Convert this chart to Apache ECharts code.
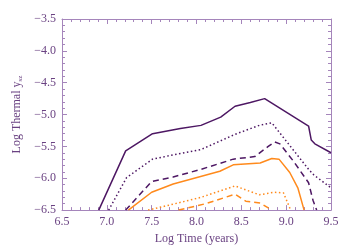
<!DOCTYPE html>
<html><head><meta charset="utf-8">
<script src="https://cdn.jsdelivr.net/npm/echarts@6/dist/echarts.min.js"></script>
<style>html,body{margin:0;padding:0;background:#fff}#c{width:350px;height:250px}</style>
</head><body><div id="c"></div>
<script>
const xMin = 6.5, xMax = 9.5, xStep = 0.5;
const yMin = -6.5, yMax = -3.5, yStep = 0.5;

const solidPurple = [[6.91,-6.5],[7.21,-5.57],[7.51,-5.30],[7.82,-5.22],[8.05,-5.17],[8.27,-5.04],[8.43,-4.87],[8.60,-4.81],[8.76,-4.75],[9.25,-5.18],[9.28,-5.40],[9.32,-5.46],[9.5,-5.60]];
const dottedPurple = [[7.02,-6.5],[7.22,-5.99],[7.51,-5.70],[7.82,-5.61],[8.05,-5.55],[8.43,-5.31],[8.70,-5.17],[8.84,-5.13],[9.25,-5.86],[9.31,-5.95],[9.5,-6.15]];
const dashedPurple = [[7.21,-6.5],[7.50,-6.05],[7.74,-5.98],[8.05,-5.86],[8.41,-5.70],[8.65,-5.66],[8.80,-5.50],[8.87,-5.43],[8.93,-5.46],[9.08,-5.73],[9.25,-6.07],[9.30,-6.35],[9.34,-6.5]];
const solidOrange = [[7.24,-6.5],[7.50,-6.22],[7.74,-6.09],[8.26,-5.89],[8.41,-5.79],[8.71,-5.76],[8.84,-5.69],[8.92,-5.70],[9.04,-5.91],[9.13,-6.15],[9.20,-6.5]];
const dottedOrange = [[7.46,-6.5],[7.76,-6.40],[8.05,-6.30],[8.43,-6.12],[8.70,-6.26],[8.87,-6.22],[8.97,-6.23],[9.05,-6.5]];
const dashedOrange = [[7.80,-6.5],[7.95,-6.45],[8.10,-6.40],[8.43,-6.25],[8.55,-6.36],[8.71,-6.39],[8.84,-6.5]];

const purple = '#4d1763';
const orange = '#ff8a1c';
const axisCol = '#a585bb';
const textCol = '#6a4282';
const font = 'Liberation Serif';

const fmt = v => v.toFixed(1).replace('-', '\u2212');

function axis(extra, min, max, step, showLabel) {
  return Object.assign({
    type: 'value', min: min, max: max, interval: step,
    axisLine: {show: true, onZero: false, lineStyle: {color: axisCol, width: 1}},
    axisTick: {show: true, inside: true, length: 5, lineStyle: {color: axisCol}},
    minorTick: {show: true, splitNumber: 5, length: 3, lineStyle: {color: axisCol}},
    splitLine: {show: false},
    axisLabel: {show: showLabel, color: textCol, fontFamily: font, fontSize: 12, formatter: fmt, margin: 6},
  }, extra);
}

function line(data, color, type) {
  return {type: 'line', data: data, showSymbol: false, symbol: 'none', clip: true,
    lineStyle: {color: color, width: 1.5, type: type}, xAxisIndex: 0, yAxisIndex: 0};
}

const chart = echarts.init(document.getElementById('c'), null, {renderer: 'canvas'});
chart.setOption({
  animation: false,
  grid: {left: 62, right: 19, top: 19, bottom: 39},
  xAxis: [
    axis({position: 'bottom', name: 'Log Time (years)', nameLocation: 'middle', nameGap: 17,
      nameTextStyle: {color: textCol, fontFamily: font, fontSize: 12}}, xMin, xMax, xStep, true),
    axis({position: 'top'}, xMin, xMax, xStep, false)
  ],
  yAxis: [
    axis({position: 'left', name: 'Log Thermal y{s|sz}', nameLocation: 'middle', nameGap: 37,
      nameTextStyle: {color: textCol, fontFamily: font, fontSize: 12,
        rich: {s: {fontSize: 7, fontFamily: font, color: textCol, padding: [5, 0, 0, 0]}}}}, yMin, yMax, yStep, true),
    axis({position: 'right'}, yMin, yMax, yStep, false)
  ],
  series: [
    line(solidPurple, purple, 'solid'),
    line(dottedPurple, purple, [1.5, 2.5]),
    line(dashedPurple, purple, [6, 4]),
    line(solidOrange, orange, 'solid'),
    line(dottedOrange, orange, [1.5, 2.5]),
    line(dashedOrange, orange, [6, 4])
  ]
});
</script></body></html>
